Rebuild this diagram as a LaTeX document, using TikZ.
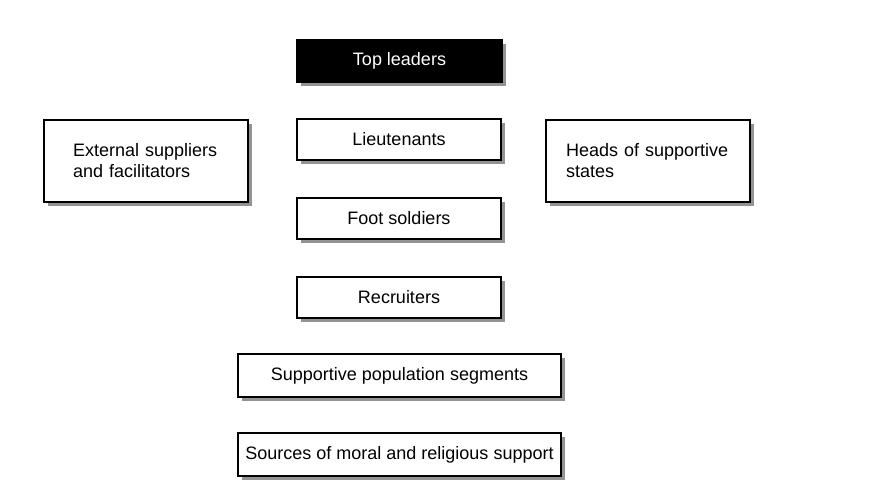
\documentclass[tikz,border=0pt]{standalone}
\usepackage{fontspec}
\setmainfont{Liberation Sans}
\usetikzlibrary{
    shadows,     % For drop shadows
    positioning  % For relative placement
}

\begin{document}
\begin{tikzpicture}[
    x=1pt, y=-1pt, % pixel-like units, y downwards
    box/.style={draw=black, line width=1.6pt, fill=white, inner sep=0pt,
        minimum width=204pt, minimum height=41pt,
        font=\fontsize{18}{21}\selectfont,
        drop shadow={shadow xshift=4pt, shadow yshift=-4pt, fill=gray!85, opacity=1}},
    topbox/.style={box, fill=black, text=white, minimum width=205pt, minimum height=42pt},
    widebox/.style={box, minimum width=323pt, minimum height=43pt},
    sidebox/.style={box, minimum height=82pt, align=left,
        execute at begin node={\hyphenpenalty=10000}}]

    % Frame of the picture
    \useasboundingbox (0,0) rectangle (885,498);

    % Central column
    \node[topbox] (top) at (399.5, 61) {Top leaders};
    \node[box] (lieut) at (399, 139.5) {Lieutenants};
    \node[box] (foot) at (399, 218.5) {Foot soldiers};
    \node[box] (recr) at (399, 297.5) {Recruiters};
    \node[widebox] (popul) at (399.5, 375.5) {Supportive population segments};
    \node[widebox] (moral) at (399.5, 454.5) {Sources of moral and religious support};

    % Side boxes
    \node[sidebox, text width=146pt] (extsup) at (146, 161) {External suppliers\\and facilitators};
    \node[sidebox, text width=164pt] (heads) at (648, 161) {Heads of supportive\\states};

\end{tikzpicture}
\end{document}
